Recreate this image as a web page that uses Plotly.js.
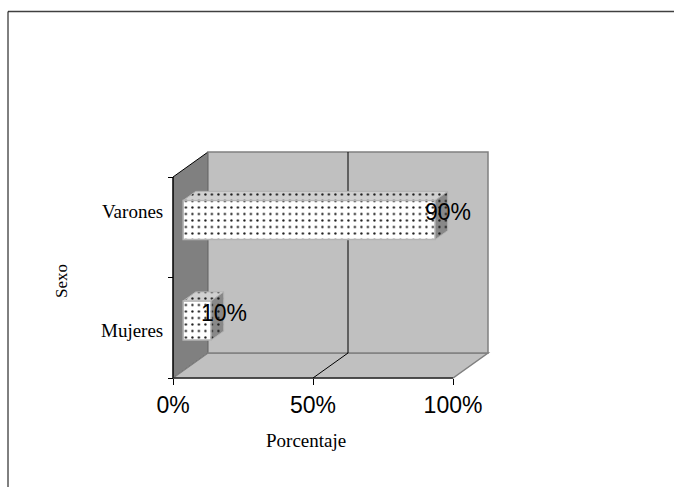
<!DOCTYPE html>
<html>
<head>
<meta charset="utf-8">
<script src="https://cdn.plot.ly/plotly-3.0.1.min.js"></script>
<style>
html,body{margin:0;padding:0;background:#ffffff;overflow:hidden;}
#chart{width:675px;height:487px;}
</style>
</head>
<body>
<div id="chart"></div>
<script>
// ---- data ----
const categories = ['Mujeres', 'Varones'];
const values = [0.10, 0.90];
const valueLabels = ['10%', '90%'];
const xTickValues = [0, 0.5, 1];
const xTickLabels = ['0%', '50%', '100%'];
const xTitle = 'Porcentaje';
const yTitle = 'Sexo';

// ---- geometry (pixels) ----
const W = 675, H = 487;
const X0 = 173, XUNIT = 280;          // value 0 -> 173px, 1 -> 453px
const YB = 378, YUNIT = 100.5;        // category boundary -0.5 -> 378px
const PLOT_L = 166, PLOT_R = 530, PLOT_T = 140, PLOT_BOT = 385;
const DEPTH = {x: 35, y: 25};         // wall depth offset
const BAR_FRONT = 0.29, BAR_DEPTH = 0.36, BAR_WIDTH = 0.39;
const CAT_LABEL_SHIFT = [-3, 16];

const xr = [(PLOT_L - X0) / XUNIT, (PLOT_R - X0) / XUNIT];
const yr = [-0.5 - (PLOT_BOT - YB) / YUNIT, -0.5 + (YB - PLOT_T) / YUNIT];
const dxu = DEPTH.x / XUNIT, dyu = DEPTH.y / YUNIT;
const sx = BAR_FRONT * DEPTH.x, sy = BAR_FRONT * DEPTH.y;
const n = categories.length;
const yLo = -0.5, yHi = n - 0.5;
const idx = categories.map((_, i) => i);

// ---- traces ----
const dotPattern = (bg) => ({shape: '.', fgcolor: '#1a1a1a', bgcolor: bg, size: 6.5, solidity: 0.1});
const bars = {
  type: 'bar', orientation: 'h', xaxis: 'x2', yaxis: 'y2',
  y: idx, x: values, width: BAR_WIDTH, base: 0,
  marker: {
    color: '#ffffff',
    line: {color: '#b4b4b4', width: 1.5},
    pattern: dotPattern('#ffffff')
  },
  hoverinfo: 'skip'
};

const hw = BAR_WIDTH / 2, bdx = BAR_DEPTH * dxu, bdy = BAR_DEPTH * dyu;
const topX = [], topY = [], sideX = [], sideY = [];
values.forEach((v, i) => {
  topX.push(0, v, v + bdx, bdx, 0, null);
  topY.push(i + hw, i + hw, i + hw + bdy, i + hw + bdy, i + hw, null);
  sideX.push(v, v, v + bdx, v + bdx, v, null);
  sideY.push(i - hw, i + hw, i + hw + bdy, i - hw + bdy, i - hw, null);
});
const tops = {
  type: 'scatter', mode: 'lines', xaxis: 'x2', yaxis: 'y2',
  x: topX, y: topY, fill: 'toself', fillcolor: '#d0d0d0',
  fillpattern: dotPattern('#d0d0d0'),
  line: {color: '#b4b4b4', width: 1}, hoverinfo: 'skip'
};
const sides = {
  type: 'scatter', mode: 'lines', xaxis: 'x2', yaxis: 'y2',
  x: sideX, y: sideY, fill: 'toself', fillcolor: '#888888',
  fillpattern: dotPattern('#888888'),
  line: {color: '#b4b4b4', width: 1}, hoverinfo: 'skip'
};

// ---- walls, grid, axis lines ----
const shapes = [];
shapes.push({type: 'path', xref: 'x', yref: 'y', layer: 'below',
  path: `M 0,${yLo} L 0,${yHi} L ${dxu},${yHi + dyu} L ${dxu},${yLo + dyu} Z`,
  fillcolor: '#808080', line: {color: '#000000', width: 1}});
shapes.push({type: 'path', xref: 'x', yref: 'y', layer: 'below',
  path: `M 0,${yLo} L 1,${yLo} L ${1 + dxu},${yLo + dyu} L ${dxu},${yLo + dyu} Z`,
  fillcolor: '#c0c0c0', line: {color: '#808080', width: 1.5}});
shapes.push({type: 'rect', xref: 'x', yref: 'y', layer: 'below',
  x0: dxu, x1: 1 + dxu, y0: yLo + dyu, y1: yHi + dyu,
  fillcolor: '#c0c0c0', line: {color: '#808080', width: 1.5}});
xTickValues.filter(t => t > 0 && t < 1).forEach(t => {
  shapes.push({type: 'line', xref: 'x', yref: 'y', layer: 'below',
    x0: t + dxu, x1: t + dxu, y0: yLo + dyu, y1: yHi + dyu, line: {color: '#000000', width: 1}});
  shapes.push({type: 'line', xref: 'x', yref: 'y', layer: 'below',
    x0: t, x1: t + dxu, y0: yLo, y1: yLo + dyu, line: {color: '#000000', width: 1}});
});
shapes.push({type: 'line', xref: 'x', yref: 'y', layer: 'below',
  x0: 0, x1: 1, y0: yLo, y1: yLo, line: {color: '#000000', width: 1}});
shapes.push({type: 'line', xref: 'x', yref: 'y', layer: 'below',
  x0: 0, x1: 0, y0: yLo, y1: yHi, line: {color: '#000000', width: 1}});
// chart-area border (top and left)
shapes.push({type: 'line', xref: 'paper', yref: 'paper',
  x0: 8 / W, x1: 674 / W, y0: 1 - 11.5 / H, y1: 1 - 11.5 / H, line: {color: '#404040', width: 1.5}});
shapes.push({type: 'line', xref: 'paper', yref: 'paper',
  x0: 8 / W, x1: 8 / W, y0: 0, y1: 1 - 11.5 / H, line: {color: '#000000', width: 1}});

// ---- annotations ----
const serif = 'Liberation Serif, Times New Roman, serif';
const sans = 'Liberation Sans, Arial, sans-serif';
const annotations = [];
categories.forEach((c, i) => {
  annotations.push({xref: 'paper', yref: 'y', x: 165 / W, y: i, xanchor: 'right', yanchor: 'middle',
    yshift: CAT_LABEL_SHIFT[i], text: c, showarrow: false,
    font: {family: serif, size: 19, color: '#000000'}});
});
values.forEach((v, i) => {
  annotations.push({xref: 'x2', yref: 'y2', x: v, y: i, xanchor: 'center', yanchor: 'middle',
    xshift: 13, yshift: 8, text: valueLabels[i], showarrow: false,
    font: {family: sans, size: 23, color: '#000000'}});
});
annotations.push({xref: 'paper', yref: 'paper', x: 306 / W, y: 1 - 440 / H, xanchor: 'center', yanchor: 'middle',
  text: xTitle, showarrow: false, font: {family: serif, size: 19, color: '#000000'}});
annotations.push({xref: 'paper', yref: 'paper', x: 61 / W, y: 1 - 281 / H, xanchor: 'center', yanchor: 'middle',
  text: yTitle, textangle: -90, showarrow: false, font: {family: serif, size: 17, color: '#000000'}});

const layout = {
  width: W, height: H,
  margin: {l: 0, r: 0, t: 0, b: 0},
  paper_bgcolor: '#ffffff', plot_bgcolor: 'rgba(0,0,0,0)',
  showlegend: false,
  xaxis: {domain: [PLOT_L / W, PLOT_R / W], range: xr, anchor: 'free', position: (H - YB) / H,
    tickvals: xTickValues, ticktext: xTickLabels, ticks: 'outside', ticklen: 6, tickwidth: 1, tickcolor: '#000000',
    ticklabelstandoff: 0, tickfont: {family: sans, size: 23, color: '#000000'},
    showgrid: false, zeroline: false, showline: false, fixedrange: true},
  yaxis: {domain: [(H - PLOT_BOT) / H, (H - PLOT_T) / H], range: yr, anchor: 'free', position: X0 / W,
    tickvals: idx.concat([n]).map(k => k - 0.5), ticks: 'outside', ticklen: 5, tickwidth: 1, tickcolor: '#000000',
    showticklabels: false, showgrid: false, zeroline: false, showline: false, fixedrange: true},
  xaxis2: {domain: [(PLOT_L + sx) / W, (PLOT_R + sx) / W], range: xr, anchor: 'y2', visible: false, fixedrange: true},
  yaxis2: {domain: [(H - PLOT_BOT + sy) / H, (H - PLOT_T + sy) / H], range: yr, anchor: 'x2', visible: false, fixedrange: true},
  shapes: shapes,
  annotations: annotations
};

Plotly.newPlot('chart', [tops, sides, bars], layout, {staticPlot: true, displayModeBar: false});
</script>
</body>
</html>
